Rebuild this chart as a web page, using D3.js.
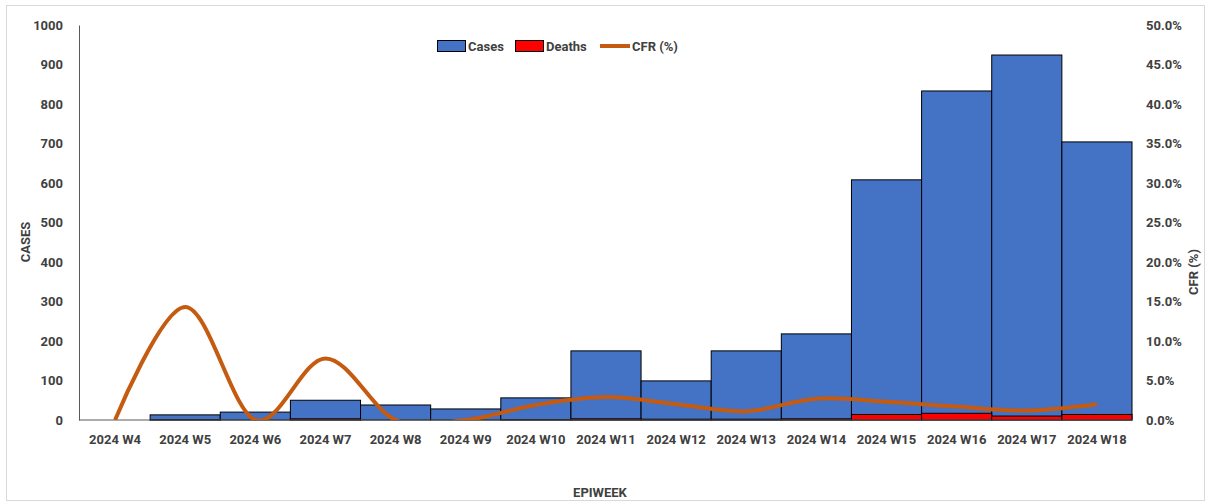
<!DOCTYPE html>
<html>
<head>
<meta charset="utf-8">
<script src="https://cdn.jsdelivr.net/npm/d3@7"></script>
<style>
  body { margin: 0; background: #fff; }
  text { font-family: "Roboto", sans-serif; fill: #404040; font-weight: bold; }
  .label { font-size: 13px; }
  .legend { font-size: 13px; }
</style>
</head>
<body>
<div id="chart"></div>
<script>
// data
const weeks = ["2024 W4", "2024 W5", "2024 W6", "2024 W7", "2024 W8", "2024 W9", "2024 W10",
  "2024 W11", "2024 W12", "2024 W13", "2024 W14", "2024 W15", "2024 W16", "2024 W17", "2024 W18"];
const cases = [0, 13, 20, 50, 38, 28, 56, 175, 99, 175, 218, 608, 833, 924, 704];
const deaths = [0, 1, 0, 3, 0, 0, 1, 3, 2, 2, 3, 14, 17, 10, 14];
const cfr = [0, 14.3, 0, 7.8, 0, 0, 1.9, 2.9, 2.0, 1.1, 2.7, 2.3, 1.7, 1.2, 2.0];
const leftTicks = [0, 100, 200, 300, 400, 500, 600, 700, 800, 900, 1000];
const rightTicks = [0, 5, 10, 15, 20, 25, 30, 35, 40, 45, 50];

const width = 1208, height = 504;
const margin = {top: 25, right: 76, bottom: 84, left: 80};

const svg = d3.select("#chart")
  .append("svg")
    .attr("width", width)
    .attr("height", height);

// outer chart border
svg.append("rect")
    .attr("x", 6.5).attr("y", 5.5)
    .attr("width", width - 10).attr("height", height - 9)
    .attr("fill", "none")
    .attr("stroke", "#d9d9d9");

const xScale = d3.scaleBand()
  .domain(weeks)
  .range([margin.left, width - margin.right])
  .padding(0);

const yScale = d3.scaleLinear()
  .domain([0, 1000])
  .range([height - margin.bottom, margin.top]);

const y2Scale = d3.scaleLinear()
  .domain([0, 50])
  .range([height - margin.bottom, margin.top]);

// clip the smoothed line to the plot area
svg.append("clipPath")
    .attr("id", "plot-clip")
  .append("rect")
    .attr("x", margin.left)
    .attr("y", margin.top)
    .attr("width", width - margin.left - margin.right)
    .attr("height", height - margin.top - margin.bottom);

// cases bars
svg.append("g")
  .selectAll("rect")
  .data(weeks)
  .join("rect")
    .attr("x", d => xScale(d))
    .attr("y", (d, i) => yScale(cases[i]))
    .attr("width", xScale.bandwidth())
    .attr("height", (d, i) => yScale(0) - yScale(cases[i]))
    .attr("fill", "#4472c4")
    .attr("stroke", "#000")
    .attr("stroke-width", 1);

// deaths bars (overlapping)
svg.append("g")
  .selectAll("rect")
  .data(weeks)
  .join("rect")
    .attr("x", d => xScale(d))
    .attr("y", (d, i) => yScale(deaths[i]))
    .attr("width", xScale.bandwidth())
    .attr("height", (d, i) => yScale(0) - yScale(deaths[i]))
    .attr("fill", "#ff0000")
    .attr("stroke", "#000")
    .attr("stroke-width", 1);

// left axis
svg.append("g")
    .attr("transform", `translate(${margin.left - 1}, 0)`)
  .call(d3.axisLeft(yScale).tickValues(leftTicks).tickSize(0).tickPadding(16).tickFormat(d3.format("d")))
  .call(g => g.select(".domain").attr("stroke", "#595959"))
  .call(g => g.selectAll("text").attr("font-size", 13).attr("font-family", null));

// right axis (labels only)
svg.append("g")
    .attr("transform", `translate(${width - margin.right}, 0)`)
  .call(d3.axisRight(y2Scale).tickValues(rightTicks).tickSize(0).tickPadding(14)
    .tickFormat(d => d.toFixed(1) + "%"))
  .call(g => g.select(".domain").remove())
  .call(g => g.selectAll("text").attr("font-size", 13).attr("font-family", null));

// bottom axis
svg.append("g")
    .attr("transform", `translate(0, ${height - margin.bottom})`)
  .call(d3.axisBottom(xScale).tickSize(0).tickPadding(15))
  .call(g => g.select(".domain").attr("stroke", "#595959").attr("d", `M${margin.left - 1},0H${width - margin.right}`))
  .call(g => g.selectAll("text").attr("font-size", 13).attr("font-family", null));

// CFR line (smoothed like the spreadsheet)
svg.append("path")
  .datum(cfr)
    .attr("clip-path", "url(#plot-clip)")
    .attr("fill", "none")
    .attr("stroke", "#c55a11")
    .attr("stroke-width", 4)
    .attr("stroke-linejoin", "round")
    .attr("d", d3.line()
      .x((d, i) => xScale(weeks[i]) + xScale.bandwidth() / 2)
      .y(d => y2Scale(d))
      .curve(d3.curveCardinal.tension(0)));

// axis titles
svg.append("text")
    .attr("class", "label")
    .attr("transform", `translate(30, 242) rotate(-90)`)
    .attr("text-anchor", "middle")
  .text("CASES");

svg.append("text")
    .attr("class", "label")
    .attr("transform", `translate(1198, 272) rotate(-90)`)
    .attr("text-anchor", "middle")
  .text("CFR (%)");

svg.append("text")
    .attr("class", "label")
    .attr("x", 600)
    .attr("y", 497)
    .attr("text-anchor", "middle")
  .text("EPIWEEK");

// legend
const legend = svg.append("g").attr("class", "legend");
legend.append("rect")
    .attr("x", 437.5).attr("y", 40.5).attr("width", 28).attr("height", 11)
    .attr("fill", "#4472c4").attr("stroke", "#000");
legend.append("text").attr("x", 468).attr("y", 51).text("Cases");
legend.append("rect")
    .attr("x", 515.5).attr("y", 40.5).attr("width", 28).attr("height", 11)
    .attr("fill", "#ff0000").attr("stroke", "#000");
legend.append("text").attr("x", 546).attr("y", 51).text("Deaths");
legend.append("line")
    .attr("x1", 600).attr("x2", 630).attr("y1", 46).attr("y2", 46)
    .attr("stroke", "#c55a11").attr("stroke-width", 4);
legend.append("text").attr("x", 632).attr("y", 51).text("CFR (%)");
</script>
</body>
</html>
